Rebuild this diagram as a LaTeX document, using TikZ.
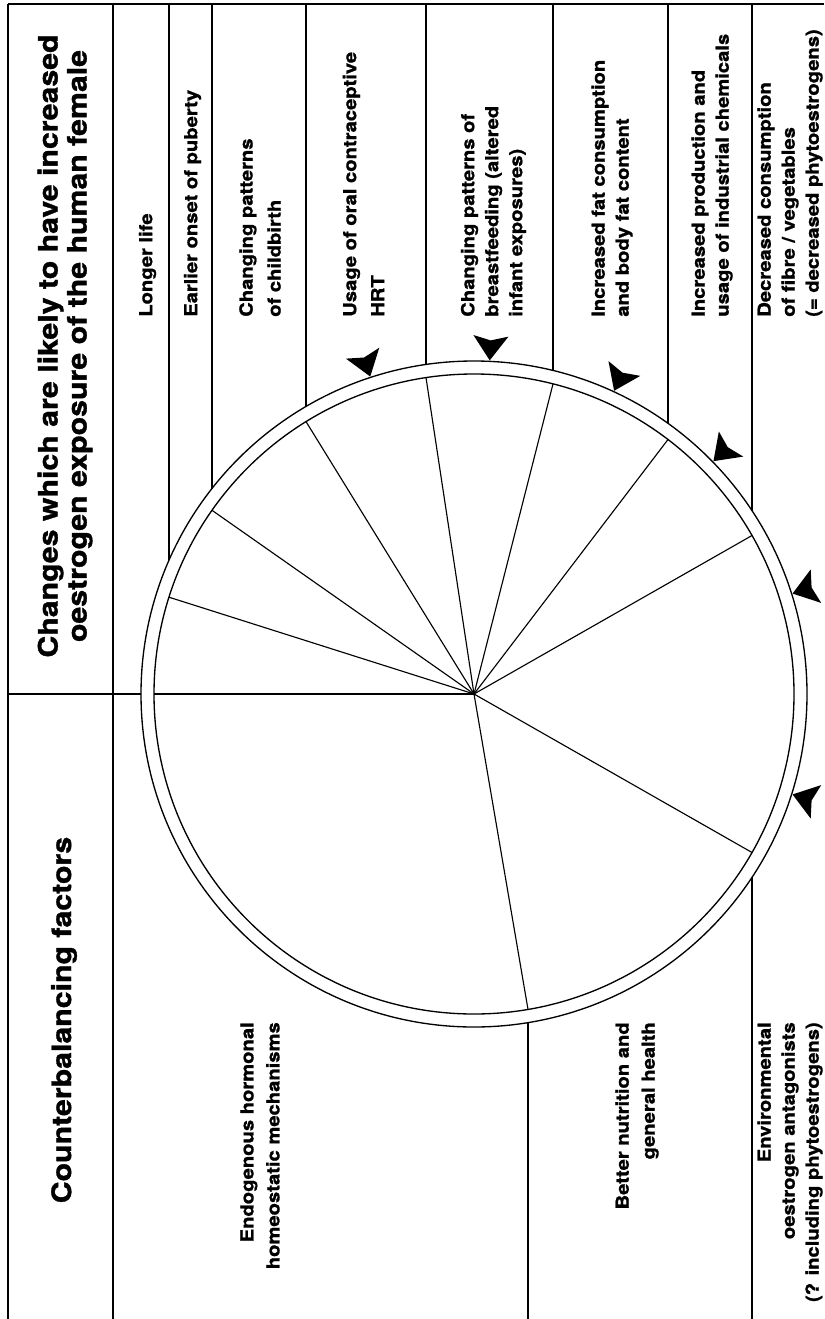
\documentclass[tikz,border=0pt]{standalone}
\usepackage{fontspec}
\setmainfont{TeX Gyre Heros}[FakeStretch=1.13, BoldFeatures={FakeBold=1.2}]
\usetikzlibrary{calc}
\begin{document}
\begin{tikzpicture}[x=0.75pt,y=-0.75pt,
  rule/.style={line width=1.3pt},
  heavyrule/.style={line width=1.7pt},
  spoke/.style={line width=0.85pt},
  ring/.style={line width=1pt},
  rowtxt/.style={rotate=90, inner sep=0pt, font=\bfseries\fontsize{13.4}{18}\selectfont},
  widetxt/.style={font=\bfseries\fontsize{13.4}{21}\selectfont},
  lowtxt/.style={font=\bfseries\fontsize{13.4}{19.5}\selectfont},
  edgetxt/.style={font=\bfseries\fontsize{13.4}{18}\selectfont},
  upper/.style={rowtxt, anchor=west, align=left},
  lower/.style={rowtxt, anchor=east, align=right},
  head/.style={rotate=90, inner sep=0pt, align=center, font=\bfseries\fontsize{20.1}{21.75}\selectfont},
  arrowhead/.style={fill=black}]
\clip (0,0) rectangle (824,1319);
\coordinate (c) at (474,694);

% frame and header separators
\draw[heavyrule] (8,4) -- (824,4);
\draw[heavyrule] (8,4) -- (8,1319);
\draw[rule] (113,4) -- (113,1319);
\draw[heavyrule] (8,694) -- (113,694);
\draw[spoke] (113,694) -- (141,694);

% row dividers (upper part, end at the outer ring)
\foreach \x/\y in {169/560.3, 212/488.5, 306/406.5, 553/370.5, 752/510.7}
  \draw[rule] (\x,4) -- (\x,\y);
\foreach \x/\y in {426/364.5, 668/423.3}
  \draw[heavyrule] (\x,4) -- (\x,\y);
% row dividers (lower part)
\foreach \x/\y in {528/1022.6, 752/877.3}
  \draw[rule] (\x,\y) -- (\x,1319);

% ring
\draw[ring] (c) circle[radius=333];
\draw[ring] (c) circle[radius=320];

% spokes
\foreach \x/\y in {154/694, 169/597.2, 212/510.3, 306/421.6, 426/377.6, 553/383.9,
                   668/439.5, 752/535.5, 752/852.5, 528/1009.4}
  \draw[spoke] (c) -- (\x,\y);

% arrowheads pointing at the ring
\foreach \a in {-108.1,-87.3,-65.2,-44.2,-17.5,17.5}
  \fill[arrowhead] ($(c)+(\a:334)$) -- ($(c)+({\a+2.8}:359)$)
     -- ($(c)+(\a:354)$) -- ($(c)+({\a-2.8}:359)$) -- cycle;

% headers
\node[head] (h1) at (65,346) {Changes which are likely to have increased\\oestrogen exposure of the human female};
\node[head] (h2) at (64,1020) {Counterbalancing factors};

% upper rows
\node[upper] (u1) at (147.5,317) {Longer life};
\node[upper] (u2) at (192.5,317) {Earlier onset of puberty};
\node[upper, widetxt] (u3) at (260,317) {Changing patterns\\of childbirth};
\node[upper, widetxt] (u4) at (363.5,317) {Usage of oral contraceptive\\HRT};
\node[upper] (u5) at (493.5,317) {Changing patterns of\\breastfeeding (altered\\infant exposures)};
\node[upper] (u6) at (612,317) {Increased fat consumption\\and body fat content};
\node[upper] (u7) at (712,317) {Increased production and\\usage of industrial chemicals};
\node[upper, edgetxt] (u8) at (790,317) {Decreased consumption\\of fibre / vegetables\\(= decreased phytoestrogens)};

% lower rows
\node[lower, lowtxt] (l1) at (260,1022) {Endogenous hormonal\\homeostatic mechanisms};
\node[lower, lowtxt] (l2) at (637,1022) {Better nutrition and\\general health};
\node[lower, edgetxt] (l3) at (790,1022) {Environmental\\oestrogen antagonists\\(? including phytoestrogens)};
\end{tikzpicture}
\end{document}
